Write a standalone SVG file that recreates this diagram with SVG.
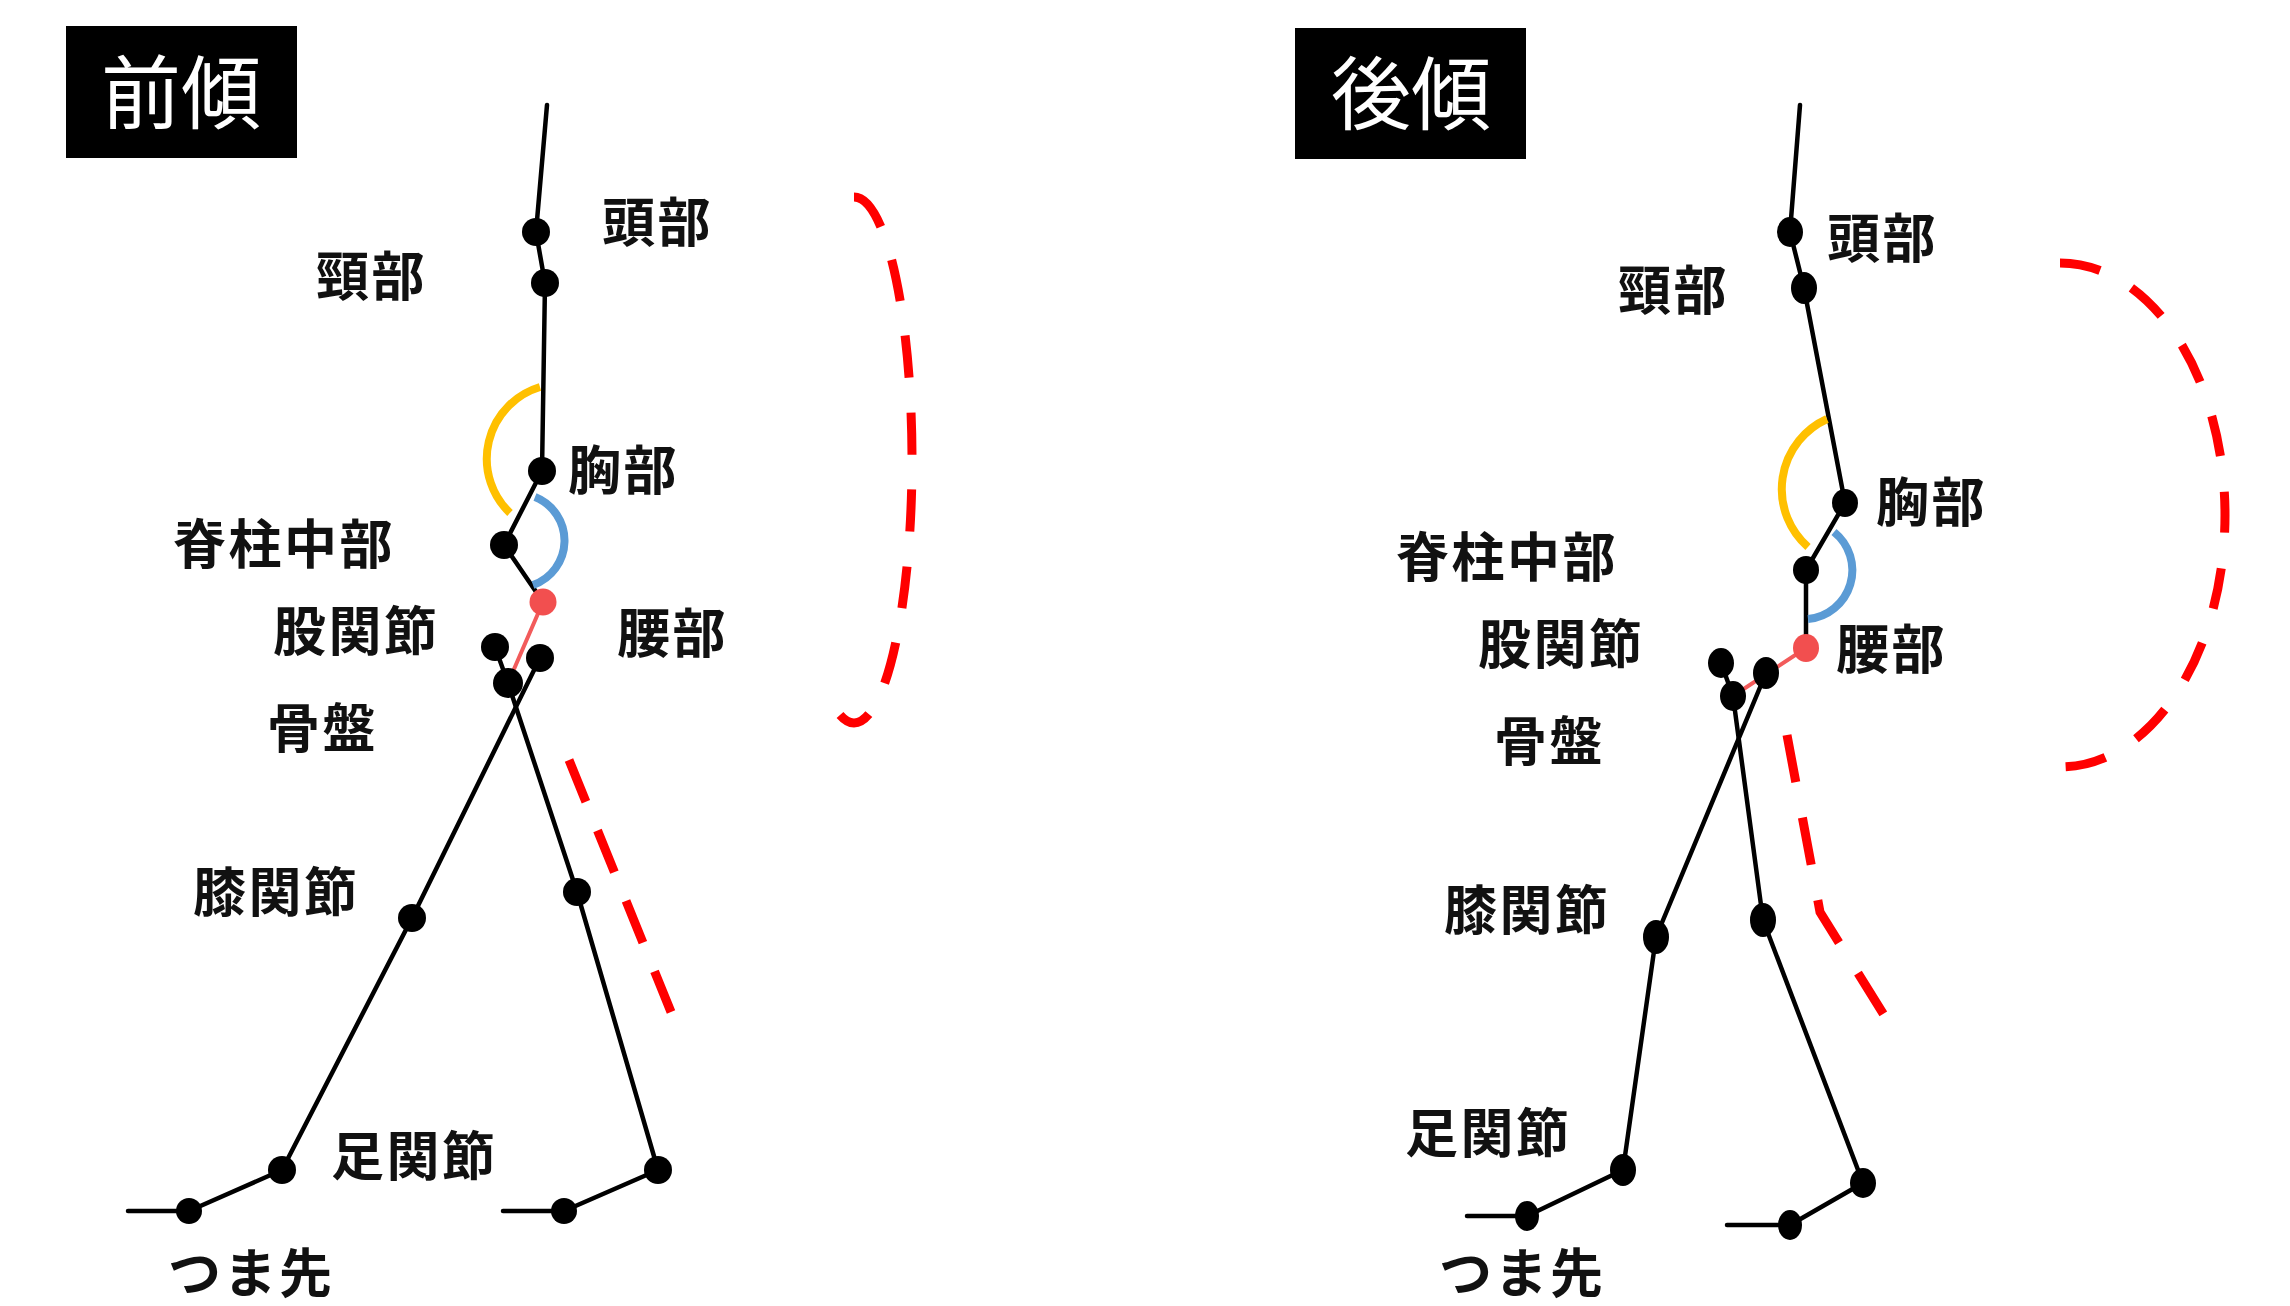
<svg xmlns="http://www.w3.org/2000/svg" width="2290" height="1306" viewBox="0 0 2290 1306">
  <style>
    .title-box { fill: #000; }
    .title { font-family: "Noto Sans CJK JP", "Noto Sans", sans-serif; font-size: 80px; fill: #fff; text-anchor: middle; }
    .label { font-family: "Noto Sans CJK JP", "Noto Sans", sans-serif; font-size: 53px; font-weight: bold; letter-spacing: 2.5px; fill: #111; }
    .bone { fill: none; stroke: #000; stroke-width: 4.5; stroke-linecap: round; stroke-linejoin: round; }
    .pelvis-line { fill: none; stroke: #f25b5b; stroke-width: 4; stroke-linecap: round; }
    .joint { fill: #000; }
    .waist { fill: #f24f4f; }
    .angle-upper { fill: none; stroke: #ffc000; stroke-width: 8; }
    .angle-lower { fill: none; stroke: #5b9bd5; stroke-width: 8; }
    .guide { fill: none; stroke: #ff0000; stroke-width: 9; }
  </style>

  <!-- ===== Forward lean ===== -->
  <g id="title-forward">
    <rect class="title-box" x="66" y="26" width="231" height="132"/>
    <text class="title" x="181" y="122">前傾</text>
  </g>

  <g id="connectors-forward">
    <!-- trunk -->
    <polyline class="bone" points="547,105 536,232 545,283 542,471 504,545 543,602"/>
    <!-- waist to pelvis -->
    <line class="pelvis-line" x1="543" y1="602" x2="508" y2="683"/>
    <!-- hip to pelvis -->
    <line class="bone" x1="495" y1="647" x2="508" y2="683"/>
    <!-- legs -->
    <polyline class="bone" points="540,658 412,918 282,1170 189,1211 128,1211"/>
    <polyline class="bone" points="508,683 577,892 658,1170 564,1211 503,1211"/>
    <!-- joint angles -->
    <path class="angle-upper" d="M540,387 A75,75 0 0 0 510,513"/>
    <path class="angle-lower" d="M535,497 A47,47 0 0 1 533,585"/>
    <!-- motion guides -->
    <path class="guide" d="M854,197 A58,263 0 0 1 854,723 A58,263 0 0 1 840,715" stroke-dasharray="42 35"/>
    <path class="guide" d="M569,760 L671,1012" stroke-dasharray="45 31"/>
  </g>

  <g id="joints-forward">
    <circle class="joint" cx="536" cy="232" r="14"/>
    <circle class="joint" cx="545" cy="283" r="14"/>
    <circle class="joint" cx="542" cy="471" r="14"/>
    <circle class="joint" cx="504" cy="545" r="14"/>
    <circle class="waist" cx="543" cy="602" r="13.5"/>
    <circle class="joint" cx="495" cy="647" r="14"/>
    <circle class="joint" cx="540" cy="658" r="14"/>
    <circle class="joint" cx="508" cy="683" r="15"/>
    <circle class="joint" cx="412" cy="918" r="14"/>
    <circle class="joint" cx="577" cy="892" r="14"/>
    <circle class="joint" cx="282" cy="1170" r="14"/>
    <circle class="joint" cx="658" cy="1170" r="14"/>
    <circle class="joint" cx="189" cy="1211" r="13"/>
    <circle class="joint" cx="564" cy="1211" r="13"/>
  </g>

  <g id="labels-forward">
    <text class="label" x="602" y="242">頭部</text>
    <text class="label" x="316" y="296">頸部</text>
    <text class="label" x="568" y="490">胸部</text>
    <text class="label" x="173" y="564">脊柱中部</text>
    <text class="label" x="273" y="651">股関節</text>
    <text class="label" x="617" y="653">腰部</text>
    <text class="label" x="267" y="748">骨盤</text>
    <text class="label" x="193" y="912">膝関節</text>
    <text class="label" x="331" y="1176">足関節</text>
    <text class="label" x="168" y="1293">つま先</text>
  </g>

  <!-- ===== Backward lean ===== -->
  <g id="title-backward">
    <rect class="title-box" x="1295" y="28" width="231" height="131"/>
    <text class="title" x="1411" y="123">後傾</text>
  </g>

  <g id="connectors-backward">
    <polyline class="bone" points="1800,105 1790,232 1804,288 1845,503 1806,570 1806,648"/>
    <line class="pelvis-line" x1="1806" y1="648" x2="1733" y2="696"/>
    <line class="bone" x1="1721" y1="663" x2="1733" y2="696"/>
    <polyline class="bone" points="1766,673 1656,937 1623,1170 1527,1216 1467,1216"/>
    <polyline class="bone" points="1733,696 1763,920 1863,1183 1790,1225 1727,1225"/>
    <path class="angle-upper" d="M1827,419 A77,77 0 0 0 1808,547"/>
    <path class="angle-lower" d="M1834,532 A49,49 0 0 1 1808,619"/>
    <path class="guide" d="M2060,263 A165,252 0 0 1 2060,767" stroke-dasharray="41 35.9"/>
    <path class="guide" d="M1787,735 L1820,912 L1884,1015" stroke-dasharray="48 36"/>
  </g>

  <g id="joints-backward">
    <ellipse class="joint" cx="1790" cy="232" rx="13" ry="15"/>
    <ellipse class="joint" cx="1804" cy="288" rx="13" ry="16"/>
    <ellipse class="joint" cx="1845" cy="503" rx="13" ry="14"/>
    <ellipse class="joint" cx="1806" cy="570" rx="13" ry="14"/>
    <ellipse class="waist" cx="1806" cy="648" rx="13" ry="14"/>
    <ellipse class="joint" cx="1721" cy="663" rx="13" ry="15"/>
    <ellipse class="joint" cx="1766" cy="673" rx="13" ry="16"/>
    <ellipse class="joint" cx="1733" cy="696" rx="13" ry="15"/>
    <ellipse class="joint" cx="1656" cy="937" rx="13" ry="17"/>
    <ellipse class="joint" cx="1763" cy="920" rx="13" ry="17"/>
    <ellipse class="joint" cx="1623" cy="1170" rx="13" ry="16"/>
    <ellipse class="joint" cx="1863" cy="1183" rx="13" ry="15"/>
    <ellipse class="joint" cx="1527" cy="1216" rx="12" ry="15"/>
    <ellipse class="joint" cx="1790" cy="1225" rx="12" ry="15"/>
  </g>

  <g id="labels-backward">
    <text class="label" x="1827" y="258">頭部</text>
    <text class="label" x="1618" y="310">頸部</text>
    <text class="label" x="1876" y="522">胸部</text>
    <text class="label" x="1396" y="577">脊柱中部</text>
    <text class="label" x="1478" y="664">股関節</text>
    <text class="label" x="1836" y="669">腰部</text>
    <text class="label" x="1494" y="761">骨盤</text>
    <text class="label" x="1444" y="930">膝関節</text>
    <text class="label" x="1405" y="1153">足関節</text>
    <text class="label" x="1439" y="1293">つま先</text>
  </g>
</svg>
